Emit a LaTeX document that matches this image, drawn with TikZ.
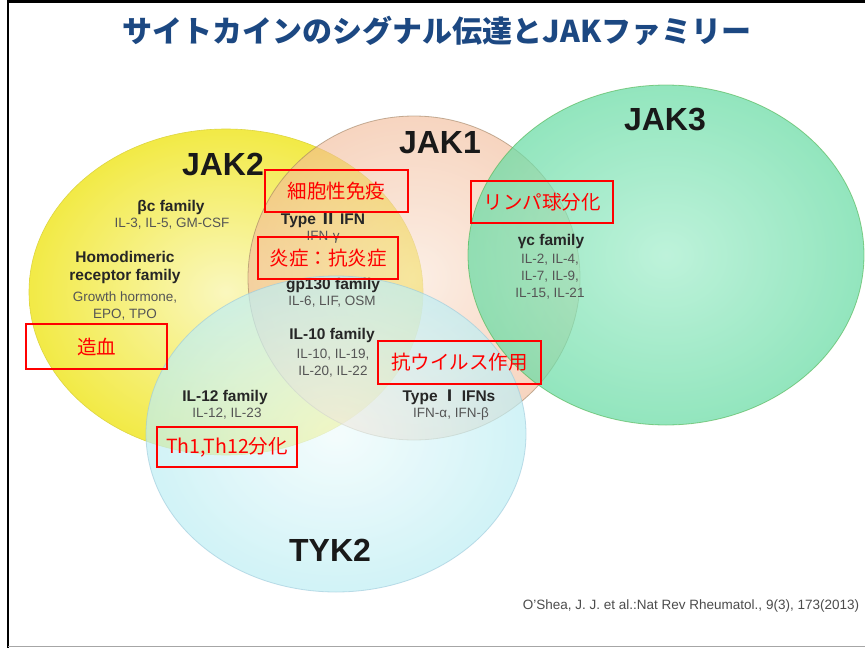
\documentclass[tikz,border=0pt]{standalone}
\usepackage{fontspec}
\setmainfont{Liberation Sans}
\newfontfamily\jp{Noto Sans CJK JP}
\definecolor{titleblue}{RGB}{28,72,130}
\definecolor{jaktwoout}{RGB}{242,234,70}
\definecolor{jaktwoin}{RGB}{250,247,190}
\definecolor{jakoneout}{RGB}{242,185,150}
\definecolor{jakonein}{RGB}{250,228,212}
\definecolor{jakthreeout}{RGB}{105,220,165}
\definecolor{jakthreein}{RGB}{165,238,205}
\definecolor{tykout}{RGB}{190,238,244}
\definecolor{tykin}{RGB}{240,252,252}
\definecolor{memgray}{RGB}{85,85,85}
\tikzset{
  kinase/.style={font=\fontsize{32}{34}\selectfont\bfseries, text=black!90},
  fam/.style={font=\fontsize{15.5}{18}\selectfont\bfseries, text=black!85},
  mem/.style={font=\fontsize{13.5}{17}\selectfont, text=memgray, align=center},
  redbox/.style={draw=red, line width=2.3pt, font=\jp\fontsize{19.5}{22}\selectfont, text=red, inner sep=0pt},
}
\begin{document}
\begin{tikzpicture}[x=1pt,y=-1pt]
\useasboundingbox (0,0) rectangle (865,648);
\fill[white] (0,0) rectangle (865,648);
% frame
\draw[black, line width=2.5pt] (8,648) -- (8,1.5) -- (865,1.5);
\draw[gray!70, line width=1.2pt] (8,646.5) -- (865,646.5);
% title
\node[font=\jp\bfseries\fontsize{30}{32}\selectfont, text=titleblue] (title) at (437,31) {サイトカインのシグナル伝達とJAKファミリー};
% ellipses
\shade[inner color=jaktwoin, outer color=jaktwoout] (226,292) ellipse [x radius=197pt, y radius=163pt];
\draw[yellow!70!gray, line width=0.6pt] (226,292) ellipse [x radius=197pt, y radius=163pt];
\shade[inner color=jakonein, outer color=jakoneout, opacity=0.6] (414,278) ellipse [x radius=166pt, y radius=162pt];
\draw[brown!50!gray, opacity=0.6, line width=0.8pt] (414,278) ellipse [x radius=166pt, y radius=162pt];
\shade[inner color=jakthreein, outer color=jakthreeout, opacity=0.72] (666,255) ellipse [x radius=198pt, y radius=170pt];
\draw[green!40!gray, opacity=0.6, line width=0.8pt] (666,255) ellipse [x radius=198pt, y radius=170pt];
\shade[inner color=tykin, outer color=tykout, opacity=0.7] (336,434) ellipse [x radius=190pt, y radius=158pt];
\draw[cyan!50!gray!60, opacity=0.6, line width=0.8pt] (336,434) ellipse [x radius=190pt, y radius=158pt];
% kinase labels
\node[kinase] (jak2) at (223,164) {JAK2};
\node[kinase] (jak1) at (440,143) {JAK1};
\node[kinase] (jak3) at (665,120) {JAK3};
\node[kinase] (tyk2) at (330,550) {TYK2};
% JAK2 families
\node[fam] (bc) at (171,207) {βc family};
\node[mem] (bcm) at (172,224) {IL-3, IL-5, GM-CSF};
\node[fam, align=center] (homo) at (125,267) {Homodimeric\\receptor family};
\node[mem] (homom) at (125,306) {Growth hormone,\\EPO, TPO};
% JAK1/JAK2 families
\node[fam] (t2) at (323,220) {Type {\jp Ⅱ} IFN};
\node[mem] (t2m) at (323,237) {IFN-γ};
\node[fam] (gp) at (333,286) {gp130 family};
\node[mem] (gpm) at (332,302) {IL-6, LIF, OSM};
\node[fam] (il10) at (332,335) {IL-10 family};
\node[mem] (il10m) at (333,363) {IL-10, IL-19,\\IL-20, IL-22};
% JAK3
\node[fam] (gc) at (551,241) {γc family};
\node[mem] (gcm) at (550,277) {IL-2, IL-4,\\IL-7, IL-9,\\IL-15, IL-21};
% TYK2
\node[fam] (il12) at (225,397) {IL-12 family};
\node[mem] (il12m) at (227,414) {IL-12, IL-23};
\node[fam] (t1) at (449,397) {Type {\jp Ⅰ} IFNs};
\node[mem] (t1m) at (451,414) {IFN-α, IFN-β};
% red boxes
\node[redbox, minimum width=143pt, minimum height=42pt] (b1) at (336.5,191) {細胞性免疫};
\node[redbox, minimum width=142pt, minimum height=42pt] (b2) at (542,202) {リンパ球分化};
\node[redbox, minimum width=140pt, minimum height=42pt] (b3) at (328,258) {炎症：抗炎症};
\node[redbox, minimum width=141pt, minimum height=45pt] (b4) at (96.5,346.5) {造血};
\node[redbox, minimum width=163pt, minimum height=43pt] (b5) at (459.5,362.5) {抗ウイルス作用};
\node[redbox, minimum width=140pt, minimum height=40pt] (b6) at (227,447) {Th1,Th12分化};
% citation
\node[font=\fontsize{13.5}{15}\selectfont, text=black!70] (cite) at (691,606) {O'Shea, J. J. et al.:Nat Rev Rheumatol., 9(3), 173(2013)};
\end{tikzpicture}
\end{document}
